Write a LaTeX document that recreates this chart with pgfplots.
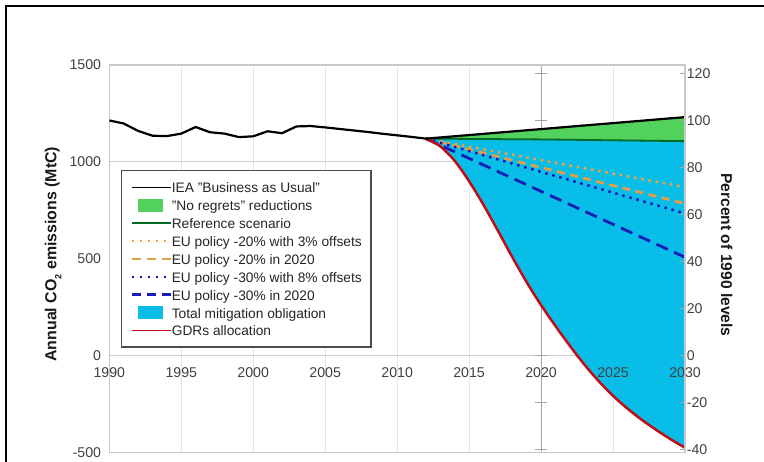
\documentclass[border=0pt]{standalone}
\usepackage{fontspec}
\setmainfont{Liberation Sans}
\usepackage{pgfplots}
\pgfplotsset{compat=1.18}
\usepgfplotslibrary{fillbetween}

\definecolor{noregret}{RGB}{82,210,92}
\definecolor{refgreen}{RGB}{0,105,35}
\definecolor{mitig}{RGB}{8,190,232}
\definecolor{gdrred}{RGB}{192,12,22}
\definecolor{orgdot}{RGB}{246,160,62}
\definecolor{orgdash}{RGB}{226,158,72}
\definecolor{bluedot}{RGB}{22,22,192}
\definecolor{bluedash}{RGB}{22,30,182}
\definecolor{labgray}{RGB}{64,64,64}
\definecolor{bordergray}{RGB}{200,200,200}
\definecolor{gridgray}{RGB}{228,228,228}
\definecolor{zerogray}{RGB}{205,205,205}
\definecolor{midgray}{RGB}{165,165,165}

\pgfplotsset{
  emis axis/.style={
    at={(109.3bp,9.4bp)}, anchor=south west,
    scale only axis, width=575.7bp, height=387.6bp,
    xmin=1990, xmax=2030,
    /pgf/number format/assume math mode=true,
    /pgf/number format/1000 sep={},
    tick label style={font=\fontsize{14.2}{16}\selectfont, text=labgray},
    label style={font=\bfseries\fontsize{15.7}{18}\selectfont, text=black!90},
  },
}

\begin{document}
\begin{tikzpicture}
% outer frame
\draw[line width=2.2bp] (6bp,-5bp) -- (6bp,455.6bp) -- (770bp,455.6bp);

% emissions in MtC
\begin{axis}[emis axis,
  ymin=-500, ymax=1500,
  ytick={-500,0,500,1000,1500},
  xtick={1990,1995,...,2030},
  xticklabels={},
  major tick length=0pt,
  axis line style={bordergray, line width=1.2bp},
  xmajorgrids, grid style={gridgray, line width=0.9bp},
  extra x ticks={2020}, extra x tick labels={},
  extra x tick style={grid style={midgray, line width=1bp}},
  extra y ticks={0,1000}, extra y tick labels={},
  extra y tick style={grid=major, grid style={zerogray, line width=0.9bp}},
  yticklabel style={xshift=-4.7bp},
  ylabel={Annual CO\raisebox{-5bp}{\fontsize{9}{9}\selectfont 2} emissions (MtC)},
  ylabel style={at={(axis description cs:-0.0978,0.512)}, anchor=center,
    font=\bfseries\fontsize{16}{18}\selectfont},
  legend style={at={(0.0198,0.729)}, anchor=north west,
    draw=black!70, line width=1.4bp, fill=white,
    font=\fontsize{13.8}{15}\selectfont, text=black!85,
    inner xsep=9bp, inner ysep=10bp,
    nodes={inner sep=0pt, text height=12bp, text depth=1bp},
    row sep=4.9bp},
  legend cell align=left,
  legend image code/.code={\draw[#1] (0bp,0bp) -- (39bp,0bp);},
]
% legend entries
\addlegendimage{legend image code/.code={\draw[black, line width=1.3bp] (0bp,0bp) -- (39bp,0bp);}}
\addlegendentry{IEA "Business as Usual"}
\addlegendimage{legend image code/.code={\fill[noregret, draw=none] (6bp,-6.5bp) rectangle (31bp,6.5bp); \path[draw=none] (0bp,0bp) -- (39bp,0bp);}}
\addlegendentry{"No regrets" reductions}
\addlegendimage{refgreen, line width=2bp}
\addlegendentry{Reference scenario}
\addlegendimage{orgdot, line width=2.2bp, dash pattern=on 2.5bp off 5.5bp}
\addlegendentry{EU policy -20\% with 3\% offsets}
\addlegendimage{orgdash, line width=2.4bp, dash pattern=on 9bp off 6bp}
\addlegendentry{EU policy -20\% in 2020}
\addlegendimage{bluedot, line width=2.2bp, dash pattern=on 2.5bp off 5.5bp}
\addlegendentry{EU policy -30\% with 8\% offsets}
\addlegendimage{bluedash, line width=2.4bp, dash pattern=on 9bp off 6bp}
\addlegendentry{EU policy -30\% in 2020}
\addlegendimage{legend image code/.code={\fill[mitig, draw=none] (6bp,-6.5bp) rectangle (31bp,6.5bp); \path[draw=none] (0bp,0bp) -- (39bp,0bp);}}
\addlegendentry{Total mitigation obligation}
\addlegendimage{gdrred, line width=1.5bp}
\addlegendentry{GDRs allocation}

% boundary paths for the shaded wedges
\addplot[draw=none, forget plot, name path=baufut] coordinates {(2012,1120) (2030,1231)};
\addplot[draw=none, forget plot, name path=refscen] coordinates {(2012,1120) (2020,1116) (2030,1107)};
\addplot[draw=none, forget plot, name path=gdr, smooth] coordinates {
  (2012,1120) (2013,1080) (2014,1005) (2015,900) (2016,778) (2017,645)
  (2018,509) (2019,379) (2020,261) (2021,153) (2022,51) (2023,-45)
  (2024,-131) (2025,-207) (2026,-273) (2027,-331) (2028,-383) (2029,-431) (2030,-475)};
\addplot[noregret, forget plot] fill between[of=baufut and refscen];
\addplot[mitig, forget plot] fill between[of=refscen and gdr];

% secondary-axis tick marks along the 2020 line (percent of 1990 = 1213 MtC)
\addplot[forget plot, only marks, mark=-, mark size=5.8bp, mark options={midgray, line width=1bp}]
  coordinates {(2020,-485.2) (2020,-242.6) (2020,0) (2020,1213) (2020,1455.6)};

% EU policy pathways
\addplot[forget plot, orgdot, line width=2.5bp, dash pattern=on 2.5bp off 4.8bp]
  coordinates {(2012,1120) (2030,870)};
\addplot[forget plot, orgdash, line width=2.8bp, dash pattern=on 8bp off 5.5bp]
  coordinates {(2012,1120) (2030,785)};
\addplot[forget plot, bluedot, line width=2.5bp, dash pattern=on 2.5bp off 4.8bp]
  coordinates {(2012,1120) (2030,734)};
\addplot[forget plot, bluedash, line width=2.8bp, dash pattern=on 12.5bp off 7bp]
  coordinates {(2012,1120) (2030,508)};

% reference scenario
\addplot[forget plot, refgreen, line width=1.8bp] coordinates {(2012,1120) (2020,1116) (2030,1107)};

% GDRs allocation
\addplot[forget plot, gdrred, line width=2.5bp, smooth] coordinates {
  (2012,1120) (2013,1080) (2014,1005) (2015,900) (2016,778) (2017,645)
  (2018,509) (2019,379) (2020,261) (2021,153) (2022,51) (2023,-45)
  (2024,-131) (2025,-207) (2026,-273) (2027,-331) (2028,-383) (2029,-431) (2030,-475)};

% IEA business as usual
\addplot[forget plot, black, line width=2.2bp, line join=round] coordinates {
  (1990,1214) (1991,1198) (1992,1160) (1993,1135) (1994,1133) (1995,1146)
  (1996,1180) (1997,1153) (1998,1146) (1999,1128) (2000,1132) (2001,1158)
  (2002,1148) (2003,1183) (2004,1185) (2005,1178) (2006,1170) (2007,1162)
  (2008,1154) (2009,1145) (2010,1137) (2011,1129) (2012,1120) (2030,1231)};
\end{axis}

% percent of 1990 levels
\begin{axis}[emis axis,
  ymin=-41.22, ymax=123.66,
  axis x line*=bottom, axis y line*=right,
  x axis line style={draw=none},
  y axis line style={bordergray, line width=1.2bp},
  xtick={1990,1995,...,2030},
  xtick style={draw=none},
  xticklabel style={yshift=88bp},
  ytick={-40,-20,...,120},
  ytick style={midgray, line width=0.8bp},
  major tick length=5bp, tick align=inside,
  yticklabel style={xshift=-1.7bp},
  ylabel={Percent of 1990 levels},
  ylabel style={at={(axis description cs:1.0724,0.51)}, anchor=center, rotate=180},
]
\addplot[draw=none] coordinates {(1990,0) (2030,100)};
\end{axis}

% page extent
\pgfresetboundingbox
\useasboundingbox (0bp,0bp) rectangle (764bp,462bp);
\end{tikzpicture}
\end{document}
